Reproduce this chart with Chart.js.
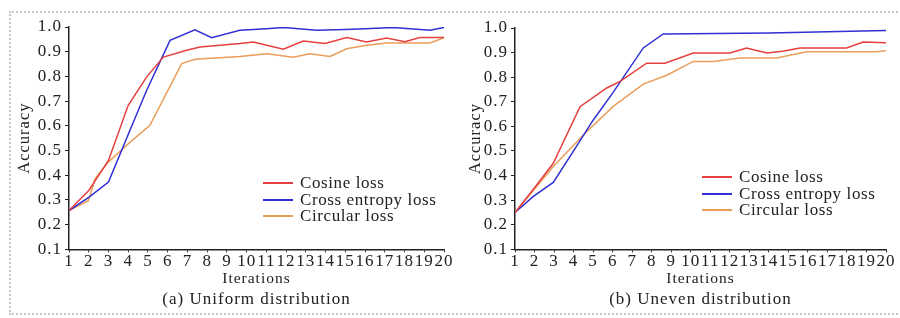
<!DOCTYPE html>
<html>
<head>
<meta charset="utf-8">
<script src="https://cdn.jsdelivr.net/npm/chart.js@4"></script>
<style>
  body { margin: 0; background: #fff; width: 900px; height: 318px; overflow: hidden; position: relative; font-family: 'Liberation Serif', 'Times New Roman', serif; }
  .frame { position: absolute; left: 9px; top: 11px; width: 900px; height: 304px; border: 2px dotted #c8c8c8; box-sizing: border-box; }
  canvas { position: absolute; top: 0; }
  #chart-a { left: 0; }
  #chart-b { left: 450px; }
  .legend { position: absolute; font-size: 17px; color: #222; line-height: 16.5px; letter-spacing: 0.6px; }
  .legend div { display: flex; align-items: center; white-space: nowrap; }
  .legend span.sw { display: inline-block; width: 30px; height: 2px; margin-right: 7px; }
</style>
</head>
<body>
<div class="frame"></div>
<canvas id="chart-a" width="462" height="318"></canvas>
<canvas id="chart-b" width="450" height="318"></canvas>
<div class="legend" id="legend-a" style="left:263px; top:175px;"></div>
<div class="legend" id="legend-b" style="left:702px; top:169px;"></div>
<script>
// series names and colours
const series_names = ['Cosine loss', 'Cross entropy loss', 'Circular loss'];
const series_colors = ['#e63f3f', '#3030d4', '#eb9d5a'];

// y axis ticks
const y_ticks = [0.1, 0.2, 0.3, 0.4, 0.5, 0.6, 0.7, 0.8, 0.9, 1.0];

// (a) Uniform distribution, [iteration, accuracy]
const uniform_cosine = [[1,0.257],[2,0.338],[3,0.46],[4,0.683],[4.93,0.797],[5.78,0.878],[6.96,0.906],[7.64,0.919],[9.66,0.933],[10.34,0.939],[11.86,0.91],[12.87,0.943],[13.97,0.933],[15.07,0.957],[16.08,0.939],[17.09,0.955],[18.02,0.94],[18.78,0.957],[20,0.957]];
const uniform_cross = [[1,0.257],[2,0.31],[3,0.372],[4,0.565],[4.93,0.743],[6.12,0.946],[7.38,0.989],[8.23,0.957],[9.66,0.987],[11,0.993],[11.86,0.998],[13.55,0.987],[15,0.99],[16,0.993],[17.43,0.998],[19.29,0.987],[20,0.998]];
const uniform_circular = [[1,0.257],[1.98,0.297],[2.32,0.385],[2.99,0.453],[4,0.527],[5.1,0.602],[6.71,0.852],[7.38,0.869],[9.66,0.881],[11.02,0.892],[12.36,0.878],[13.2,0.892],[14.22,0.881],[15.07,0.912],[16.08,0.926],[17.09,0.935],[19.29,0.935],[20,0.957]];

// (b) Uneven distribution
const uneven_cosine = [[1,0.25],[2,0.35],[2.96,0.45],[4.33,0.68],[5.7,0.756],[6.38,0.783],[7.74,0.857],[8.68,0.857],[10.13,0.898],[12,0.898],[12.86,0.919],[13.9,0.898],[14.7,0.905],[15.6,0.919],[17.98,0.919],[18.83,0.943],[20,0.94]];
const uneven_cross = [[1,0.25],[1.94,0.315],[2.96,0.372],[4,0.5],[5,0.625],[6,0.735],[7.57,0.919],[8.59,0.976],[14,0.98],[20,0.99]];
const uneven_circular = [[1,0.25],[2,0.345],[2.96,0.437],[4.5,0.565],[6.03,0.681],[7.57,0.772],[8.77,0.808],[10.13,0.864],[11.15,0.864],[12.52,0.878],[14.4,0.878],[15.94,0.903],[19.5,0.903],[20,0.907]];

Chart.defaults.font.family = "'Liberation Serif', 'Times New Roman', serif";
Chart.defaults.color = '#222';

// the source text is set wide, so spread the canvas letters a little
const wide_text = {
  id: 'wide_text',
  beforeUpdate(chart) { chart.ctx.letterSpacing = '1px'; },
  beforeDraw(chart) { chart.ctx.letterSpacing = '1px'; }
};

function make_chart(id, data_sets, subtitle, pad) {
  const datasets = data_sets.map((pts, i) => ({
    label: series_names[i],
    data: pts.map(p => ({ x: p[0], y: p[1] })),
    borderColor: series_colors[i],
    backgroundColor: series_colors[i],
    borderWidth: 1.5,
    pointRadius: 0,
    tension: 0
  }));

  return new Chart(document.getElementById(id), {
    type: 'line',
    data: { datasets: datasets },
    plugins: [wide_text],
    options: {
      responsive: false,
      animation: false,
      layout: { padding: { left: pad.left, right: pad.right, top: pad.top, bottom: 9 } },
      plugins: {
        legend: { display: false },
        tooltip: { enabled: false },
        title: {
          display: true,
          text: subtitle,
          position: 'bottom',
          fullSize: false,
          font: { size: 17, weight: 'normal', lineHeight: 1.1 },
          padding: { top: 2, bottom: 0 }
        }
      },
      scales: {
        x: {
          type: 'linear',
          min: 1,
          max: 20,
          afterFit: (s) => { s.height = 39; },
          ticks: { stepSize: 1, autoSkip: false, maxRotation: 0, padding: 0, font: { size: 17, lineHeight: 1.1 } },
          grid: { drawOnChartArea: false, tickLength: 3, color: '#222' },
          border: { color: '#222', width: 1.5 },
          title: { display: true, text: 'Iterations', font: { size: 15.5, lineHeight: 1.1 }, padding: { top: 0, bottom: 1 } }
        },
        y: {
          min: 0.1,
          max: 1.0,
          afterFit: (s) => { s.width = 54; },
          afterBuildTicks: (s) => { s.ticks = y_ticks.map(v => ({ value: v })); },
          ticks: { padding: 3, font: { size: 17 }, callback: (v) => Number(v).toFixed(1) },
          grid: { drawOnChartArea: false, tickLength: 4, color: '#222' },
          border: { color: '#222', width: 1.5 },
          title: { display: true, text: 'Accuracy', font: { size: 16.5, lineHeight: 1.1 }, padding: { top: pad.ytitle, bottom: 0 } }
        }
      }
    }
  });
}

make_chart('chart-a', [uniform_cosine, uniform_cross, uniform_circular], '(a) Uniform distribution', { left: 15, right: 18, top: 27, ytitle: 1 });
make_chart('chart-b', [uneven_cosine, uneven_cross, uneven_circular], '(b) Uneven distribution', { left: 11, right: 14, top: 28, ytitle: 6 });

// legends inside the plot areas
['legend-a', 'legend-b'].forEach(id => {
  const box = document.getElementById(id);
  series_names.forEach((name, i) => {
    const row = document.createElement('div');
    row.innerHTML = '<span class="sw" style="background:' + series_colors[i] + '"></span>' + name;
    box.appendChild(row);
  });
});
</script>
</body>
</html>
